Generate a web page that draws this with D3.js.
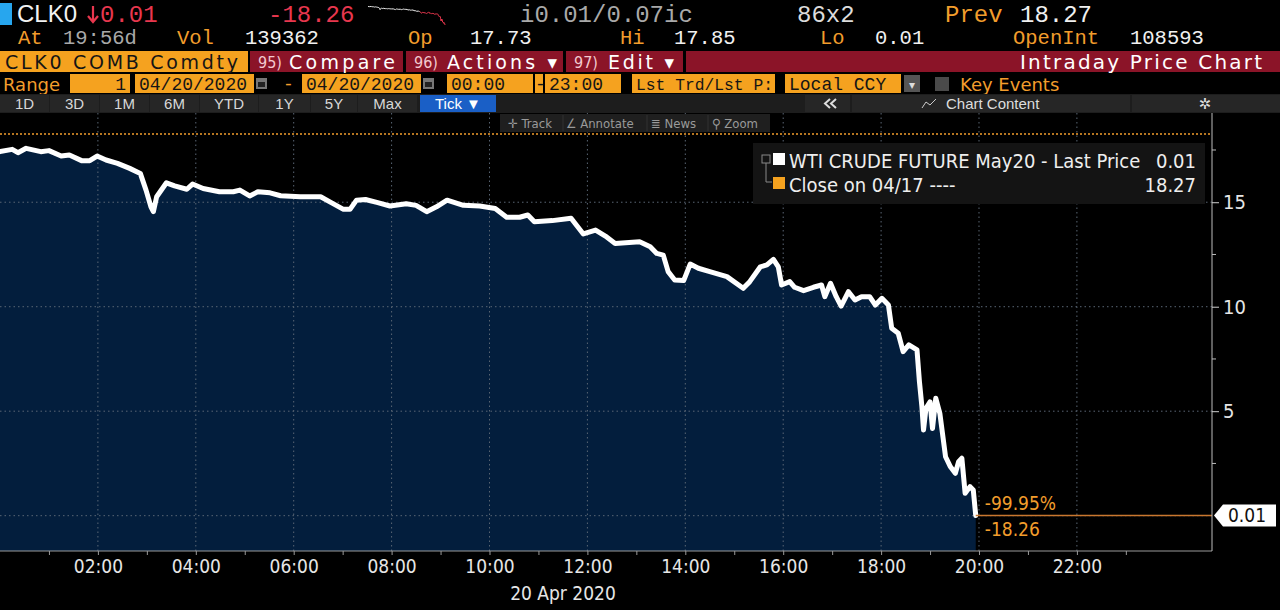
<!DOCTYPE html>
<html><head><meta charset="utf-8">
<script src="https://cdn.jsdelivr.net/npm/d3@7"></script>
<style>
html,body{margin:0;padding:0;background:#000;overflow:hidden}
svg{display:block}
</style></head>
<body>
<svg id="c" width="1280" height="610"></svg>
<script>
// ---------------- data ----------------
const times = ["00:00","00:15","00:22","00:32","00:50","01:00","01:15","01:25","01:40","01:50","01:59","02:10","02:24","02:39","02:52","02:59","03:05","03:08","03:12","03:24","03:34","03:49","03:56","04:09","04:29","04:46","04:54","05:06","05:16","05:31","05:44","06:08","06:33","06:46","07:01","07:09","07:17","07:28","07:43","07:58","08:18","08:30","08:43","08:55","09:08","09:28","09:48","10:07","10:21","10:37","10:47","10:55","11:17","11:40","11:55","12:10","12:22","12:34","13:04","13:17","13:25","13:33","13:39","13:47","13:58","14:06","14:16","14:30","14:51","15:11","15:19","15:32","15:40","15:48","15:54","15:58","16:08","16:14","16:25","16:37","16:47","16:51","16:58","17:05","17:11","17:20","17:28","17:36","17:46","17:53","18:01","18:09","18:13","18:21","18:27","18:34","18:44","18:47","18:50","18:52","18:55","19:00","19:03","19:07","19:12","19:19","19:25","19:31","19:35","19:39","19:43","19:49","19:53","19:56"];
const prices = [17.42,17.53,17.37,17.58,17.42,17.47,17.21,17.26,16.99,16.99,17.21,17.02,16.86,16.62,16.38,15.58,14.78,14.55,15.26,15.93,15.78,15.62,15.87,15.66,15.50,15.50,15.58,15.30,15.50,15.45,15.31,15.26,15.26,14.98,14.66,14.66,15.10,15.13,14.98,14.82,14.93,14.85,14.55,14.78,15.10,14.85,14.82,14.70,14.28,14.28,14.39,14.07,14.12,14.23,13.48,13.67,13.38,13.03,13.11,12.87,12.55,12.47,11.68,11.28,11.25,12.04,11.84,11.68,11.44,10.88,11.20,11.91,12.00,12.27,11.91,11.04,11.20,10.93,10.77,10.93,11.04,10.48,11.12,10.48,10.03,10.72,10.32,10.48,10.48,10.08,10.40,10.08,8.97,8.73,7.85,8.17,7.93,6.41,5.22,4.10,5.14,5.45,4.17,5.62,4.90,2.82,2.34,2.03,2.58,2.75,1.07,1.39,1.23,0.01];
const prevClose = 18.27;
const lastPrice = 0.01;
const yTickValues = [5, 10, 15];
const yMinorValues = [2.5, 7.5, 12.5, 17.5];
const xLabelHours = [2,4,6,8,10,12,14,16,18,20,22];
const legendLabels = ["WTI CRUDE FUTURE May20 - Last Price", "Close on 04/17 ----"];
const legendValues = ["0.01", "18.27"];
const changePct = "-99.95%";
const changeAbs = "-18.26";
const dateLabel = "20 Apr 2020";

// ---------------- setup ----------------
const svg = d3.select("#c");
const parse = d3.timeParse("%Y-%m-%d %H:%M");
const day = "2020-04-20";
const data = times.map((t,i)=>({t:parse(day+" "+t), v:prices[i]}));
const t0 = parse(day+" 00:00");
const tEnd = new Date(t0.getTime() + 24.76*3600e3);

const plot = {left:0, right:1212, top:113, bottom:551};
const x = d3.scaleTime().domain([t0, tEnd]).range([plot.left, plot.right]);
const y = d3.scaleLinear().domain([-1.69, 19.27]).range([plot.bottom, plot.top]);

const ORANGE = "#f29d2c";
const MONO = "'Liberation Mono','DejaVu Sans Mono',monospace";
const NARROW = "'Liberation Sans Narrow','DejaVu Sans Condensed','Liberation Sans',sans-serif";
const SANS = "'Liberation Sans','DejaVu Sans',sans-serif";
const WIDE = "'DejaVu Sans','Liberation Sans',sans-serif";

function txt(g, x0, y0, s, fill, size, fam, anchor, weight){
  return g.append("text").attr("x",x0).attr("y",y0).text(s).attr("fill",fill)
   .attr("font-size",size).attr("font-family",fam||MONO).attr("text-anchor",anchor||"start")
   .attr("font-weight",weight||"normal");
}

// ---------------- header ----------------
const hdr = svg.append("g");
// row 1
hdr.append("rect").attr("x",0).attr("y",3).attr("width",12).attr("height",22).attr("fill","#27a6ee");
txt(hdr,17,22,"CLK0","#f2f2f2",24,SANS);
hdr.append("path").attr("d","M93,6 V21 M88,16 L93,22 L98,16").attr("stroke","#e8374e").attr("stroke-width",2.2).attr("fill","none");
txt(hdr,100,22,"0.01","#e8374e",24);
txt(hdr,268,22,"-18.26","#e8374e",24);
txt(hdr,520,22,"i0.01/0.07ic","#a9a9a9",24);
txt(hdr,797,22,"86x2","#dcdcdc",24);
txt(hdr,945,22,"Prev",ORANGE,24);
txt(hdr,1020,22,"18.27","#f0f0f0",24);
// sparkline
const sx = d3.scaleTime().domain([t0, data[data.length-1].t]).range([368,445]);
const sy = d3.scaleLinear().domain([0, 18]).range([25,6]);
const splitIdx = 60;
svg.append("path").datum(data.slice(0, splitIdx+1))
  .attr("d", d3.line().x(d=>sx(d.t)).y(d=>sy(d.v)))
  .attr("fill","none").attr("stroke","#eee").attr("stroke-width",1);
svg.append("path").datum(data.slice(splitIdx))
  .attr("d", d3.line().x(d=>sx(d.t)).y(d=>sy(d.v)))
  .attr("fill","none").attr("stroke","#e8374e").attr("stroke-width",1);
// row 2
[[18,"At",ORANGE],[63,"19:56d","#a9a9a9"],[177,"Vol",ORANGE],[245,"139362","#f0f0f0"],
 [408,"Op",ORANGE],[470,"17.73","#f0f0f0"],[620,"Hi",ORANGE],[674,"17.85","#f0f0f0"],
 [820,"Lo",ORANGE],[875,"0.01","#f0f0f0"],[1013,"OpenInt",ORANGE],[1130,"108593","#f0f0f0"]]
 .forEach(d=>txt(hdr,d[0],43.5,d[1],d[2],20.5));
// row 3
const RED = "#8b1428";
hdr.append("rect").attr("x",0).attr("y",51).attr("width",248).attr("height",21).attr("fill","#f5a21f");
txt(hdr,5,68.5,"CLK0 COMB Comdty","#151515",19,WIDE).attr("textLength",233).attr("lengthAdjust","spacing");
[[250,153,"95)","Compare",289,106],[406,157,"96)","Actions ▾",447,110],[566,117,"97)","Edit ▾",608,66]].forEach(b=>{
  hdr.append("rect").attr("x",b[0]).attr("y",51).attr("width",b[1]).attr("height",21).attr("fill",RED);
  txt(hdr,b[0]+8,68,b[2],"#f3c9cf",16,NARROW);
  txt(hdr,b[4],68.5,b[3],"#fff",19,WIDE).attr("textLength",b[5]).attr("lengthAdjust","spacing");
});
hdr.append("rect").attr("x",686).attr("y",51).attr("width",594).attr("height",21).attr("fill",RED);
txt(hdr,1262,68.5,"Intraday Price Chart","#fff",20,WIDE,"end").attr("textLength",242).attr("lengthAdjust","spacing");
// row 4
const FLD = "#f5a21f";
txt(hdr,3,90.5,"Range",ORANGE,18,WIDE);
function field(x0,w,s,anchor,sz){
  hdr.append("rect").attr("x",x0).attr("y",74).attr("width",w).attr("height",19).attr("fill",FLD);
  return txt(hdr, anchor==="end"? x0+w-4 : x0+4, 90, s, "#151515", sz||18, MONO, anchor||"start");
}
function cal(x0){
  hdr.append("rect").attr("x",x0).attr("y",78).attr("width",11).attr("height",11).attr("fill","#777");
  hdr.append("rect").attr("x",x0+2).attr("y",82).attr("width",7).attr("height",5).attr("fill","#222");
}
field(70,60,"1","end");
field(135,119,"04/20/2020"); cal(256);
txt(hdr,283,90,"-",ORANGE,18);
field(302,119,"04/20/2020"); cal(423);
field(447,86,"00:00");
field(535,8,"");
txt(hdr,535,90,"-","#151515",18);
field(545,76,"23:00");
field(632,143,"Lst Trd/Lst P:","start",17).attr("textLength",137).attr("lengthAdjust","spacingAndGlyphs");
field(785,116,"Local CCY","start",18);
hdr.append("rect").attr("x",904).attr("y",75).attr("width",16).attr("height",17).attr("fill","#555");
txt(hdr,912,89,"▾","#ddd",12,SANS,"middle");
hdr.append("rect").attr("x",935).attr("y",77).attr("width",14).attr("height",14).attr("fill","#4a4a4a");
txt(hdr,960,90.5,"Key Events",ORANGE,18,WIDE);
// row 5
hdr.append("rect").attr("x",0).attr("y",94).attr("width",1280).attr("height",19).attr("fill","#1d1d1d");
const btns = [["1D",0,49],["3D",50,49],["1M",100,49],["6M",150,49],["YTD",200,58],["1Y",259,51],["5Y",311,46],["Max",358,59]];
btns.forEach(b=>{
  hdr.append("rect").attr("x",b[1]).attr("y",95).attr("width",b[2]).attr("height",17).attr("fill","#262626");
  txt(hdr,b[1]+b[2]/2,109,b[0],"#d8d8d8",15,SANS,"middle");
});
hdr.append("rect").attr("x",420).attr("y",95).attr("width",76).attr("height",17).attr("fill","#1a5fc6");
txt(hdr,458,109,"Tick ▼","#fff",15,SANS,"middle");
hdr.append("rect").attr("x",805).attr("y",95).attr("width",45).attr("height",17).attr("fill","#262626");
hdr.append("path").attr("d","M830,99 L825,103.5 L830,108 M836,99 L831,103.5 L836,108")
  .attr("stroke","#ddd").attr("stroke-width",2).attr("fill","none");
hdr.append("rect").attr("x",852).attr("y",95).attr("width",278).attr("height",17).attr("fill","#262626");
txt(hdr,946,109,"Chart Content","#ddd",15,SANS);
hdr.append("path").attr("d","M922,108 L926,102 L930,105 L936,99").attr("stroke","#ccc").attr("fill","none");
hdr.append("rect").attr("x",1132).attr("y",95).attr("width",148).attr("height",17).attr("fill","#262626");
txt(hdr,1205,109,"✲","#ddd",15,SANS,"middle");

// ---------------- chart ----------------
const g = svg.append("g");
g.append("path").datum(data)
  .attr("d", d3.area().x(d=>x(d.t)).y0(plot.bottom).y1(d=>y(d.v)))
  .attr("fill","#031e3d");
const gridHours = xLabelHours.map(h=>new Date(t0.getTime()+h*3600e3));
g.selectAll(".vg").data(gridHours).join("line")
  .attr("x1",d=>x(d)).attr("x2",d=>x(d)).attr("y1",plot.top).attr("y2",plot.bottom)
  .attr("stroke","#5a6674").attr("stroke-dasharray","1.5,3").attr("stroke-width",1);
g.selectAll(".hg").data([0].concat(yTickValues)).join("line")
  .attr("x1",plot.left).attr("x2",plot.right).attr("y1",d=>y(d)).attr("y2",d=>y(d))
  .attr("stroke","#5a6674").attr("stroke-dasharray","1.5,3").attr("stroke-width",1);
g.append("line").attr("x1",plot.left).attr("x2",plot.right).attr("y1",y(prevClose)).attr("y2",y(prevClose))
  .attr("stroke",ORANGE).attr("stroke-dasharray","2,2").attr("stroke-width",1.5);
g.append("path").datum(data)
  .attr("d", d3.line().x(d=>x(d.t)).y(d=>y(d.v)))
  .attr("fill","none").attr("stroke","#fff").attr("stroke-width",5).attr("stroke-linejoin","round").attr("stroke-linecap","round");
const last = data[data.length-1];
g.append("line").attr("x1",x(last.t)).attr("x2",plot.right).attr("y1",y(lastPrice)).attr("y2",y(lastPrice))
  .attr("stroke","#c9772f").attr("stroke-width",1.5);
txt(g,x(last.t)+9,y(lastPrice)-5,changePct,ORANGE,19,NARROW);
txt(g,x(last.t)+9,y(lastPrice)+21,changeAbs,ORANGE,19,NARROW);

// toolbar overlay
const tb = svg.append("g");
tb.append("rect").attr("x",500).attr("y",114).attr("width",270).attr("height",18).attr("fill","#1f1f1f");
[[508,"✛ Track"],[566,"∠ Annotate"],[651,"≣ News"],[712,"⚲ Zoom"]].forEach(d=>txt(tb,d[0],128,d[1],"#9a9a9a",13,NARROW));
[[563],[647],[708]].forEach(d=>tb.append("line").attr("x1",d[0]).attr("x2",d[0]).attr("y1",115).attr("y2",131).attr("stroke","#333"));

// x axis
const xAxis = d3.axisBottom(x)
  .tickValues(d3.range(1,24).map(h=>new Date(t0.getTime()+h*3600e3)))
  .tickSize(4).tickFormat(d=> (d.getHours()%2===0) ? d3.timeFormat("%H:%M")(d) : "");
const xa = svg.append("g").attr("transform",`translate(0,${plot.bottom})`).call(xAxis);
xa.select(".domain").attr("stroke","#9a9a9a").attr("d",`M0,0H${plot.right}`);
xa.selectAll(".tick line").attr("stroke","#9a9a9a");
xa.selectAll(".tick text").attr("fill","#e6e6e6").attr("font-size",19).attr("font-family",NARROW).attr("dy","0.95em").attr("y",4);
txt(svg,563,600,dateLabel,"#e6e6e6",19,NARROW,"middle");

// y axis (right)
const yAxis = d3.axisRight(y).tickValues(yTickValues).tickSize(7).tickPadding(4).tickFormat(d3.format("d"));
const ya = svg.append("g").attr("transform",`translate(${plot.right},0)`).call(yAxis);
ya.select(".domain").attr("stroke","#bdbdbd").attr("d",`M0,${plot.top}V${plot.bottom}`);
ya.selectAll(".tick line").attr("stroke","#d0d0d0");
ya.selectAll(".tick text").attr("fill","#e6e6e6").attr("font-size",20).attr("font-family",NARROW);
ya.selectAll(".minor").data(yMinorValues).join("line").attr("class","minor")
  .attr("x1",0).attr("x2",4).attr("y1",d=>y(d)).attr("y2",d=>y(d)).attr("stroke","#bbb");

// price tag
const py = y(lastPrice);
svg.append("path").attr("d",`M${plot.right+2},${py} L${plot.right+11},${py-11} H1276 V${py+11} H${plot.right+11} Z`).attr("fill","#fff");
txt(svg,1228,py+7,d3.format(".2f")(lastPrice),"#111",19,NARROW);

// legend
const lg = svg.append("g");
lg.append("rect").attr("x",753).attr("y",143).attr("width",452).attr("height",61).attr("fill","#141414");
lg.append("path").attr("d","M766,163 V182 H772").attr("stroke","#888").attr("fill","none");
lg.append("rect").attr("x",762).attr("y",155).attr("width",8).attr("height",8).attr("fill","none").attr("stroke","#888");
lg.append("rect").attr("x",773).attr("y",153).attr("width",12).attr("height",12).attr("fill","#fff");
lg.append("rect").attr("x",773).attr("y",177).attr("width",12).attr("height",12).attr("fill","#f5a21f");
legendLabels.forEach((s,i)=>{
  txt(lg,789,168+i*24,s,"#eeeeee",20,NARROW);
  txt(lg,1196,168+i*24,legendValues[i],"#eeeeee",20,NARROW,"end");
});
</script>
</body></html>
